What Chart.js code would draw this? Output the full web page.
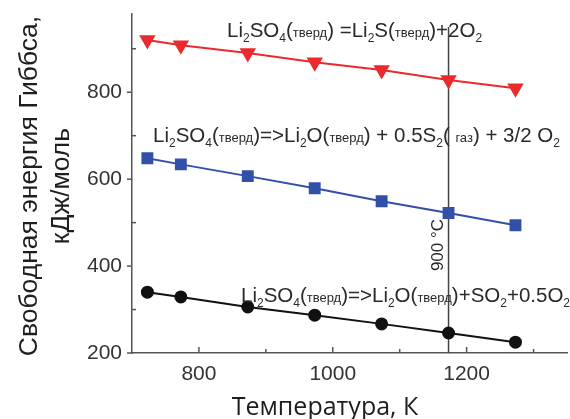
<!DOCTYPE html>
<html>
<head>
<meta charset="utf-8">
<script src="https://cdn.jsdelivr.net/npm/chart.js@4.4.0/dist/chart.umd.min.js"></script>
<style>
html,body{margin:0;padding:0;background:#fff;}
#wrap{width:570px;height:419px;position:relative;}
</style>
</head>
<body>
<div id="wrap"><canvas id="c" width="570" height="419"></canvas></div>
<script>
// ---- data ----
const temps = [723, 773, 873, 973, 1073, 1173, 1273];          // K
const gLi2S = [920, 908, 890, 869, 851, 828, 809];               // Li2SO4 = Li2S + 2O2
const gLi2O_S2 = [648, 634, 607, 579, 549, 522, 494];            // Li2SO4 => Li2O + 0.5S2 + 3/2 O2
const gLi2O_SO2 = [340, 329, 306, 287, 267, 246, 225];           // Li2SO4 => Li2O + SO2 + 0.5O2
const xTickLabels = [800, 1000, 1200];
const yTickLabels = [200, 400, 600, 800];
const xMinorTicks = [900, 1100, 1300];
const yMinorTicks = [300, 500, 700, 900];
const marker900C = 1173;
const markerSpan = [200, 950];
const markerLabel = '900 °C';
const yTitle = ['Свободная энергия Гиббса,', 'кДж/моль'];
const xTitle = 'Температура, К';
// equation labels: [type, text]; n = normal, s = subscript, p = phase (small)
const eqTop = [['n','Li'],['s','2'],['n','SO'],['s','4'],['n','('],['p','тверд'],['n',') =Li'],['s','2'],['n','S('],['p','тверд'],['n',')+2O'],['s','2']];
const eqMid = [['n','Li'],['s','2'],['n','SO'],['s','4'],['n','('],['p','тверд'],['n',')=>Li'],['s','2'],['n','O('],['p','тверд'],['n',') + 0.5S'],['s','2'],['n','( '],['p','газ'],['n',') + 3/2 O'],['s','2']];
const eqBot = [['n','Li'],['s','2'],['n','SO'],['s','4'],['n','('],['p','тверд'],['n',')=>Li'],['s','2'],['n','O('],['p','тверд'],['n',')+SO'],['s','2'],['n','+0.5O'],['s','2']];

const pts = (ys) => temps.map((t, i) => ({x: t, y: ys[i]}));

function drawRich(ctx, x, y, segs) {
  ctx.save();
  ctx.textBaseline = 'alphabetic';
  ctx.textAlign = 'left';
  ctx.fillStyle = '#2a2a2a';
  for (const [t, s] of segs) {
    let dy = 0;
    if (t === 'n') ctx.font = '20.5px "Liberation Sans", Arial, sans-serif';
    else if (t === 's') { ctx.font = '12px "Liberation Sans", Arial, sans-serif'; dy = 5; }
    else ctx.font = '13px "Liberation Sans", Arial, sans-serif';
    ctx.fillText(s, x, y + dy);
    x += ctx.measureText(s).width;
  }
  ctx.restore();
}

const noPad = (s) => { s.paddingTop = 0; s.paddingBottom = 0; s.paddingLeft = 0; s.paddingRight = 0; };

const decor = {
  id: 'decor',
  afterDraw(chart) {
    const ctx = chart.ctx;
    const xs = chart.scales.x, ys = chart.scales.y;
    const axisX = chart.chartArea.left, axisY = chart.chartArea.bottom;
    ctx.save();
    ctx.strokeStyle = '#555';
    ctx.lineWidth = 1.5;
    for (const v of yTickLabels) {
      const py = ys.getPixelForValue(v);
      ctx.beginPath(); ctx.moveTo(axisX - 5, py); ctx.lineTo(axisX, py); ctx.stroke();
    }
    for (const v of yMinorTicks) {
      const py = ys.getPixelForValue(v);
      ctx.beginPath(); ctx.moveTo(axisX, py); ctx.lineTo(axisX + 4, py); ctx.stroke();
    }
    for (const v of xTickLabels) {
      const px = xs.getPixelForValue(v);
      ctx.beginPath(); ctx.moveTo(px, axisY); ctx.lineTo(px, axisY - 6); ctx.stroke();
    }
    for (const v of xMinorTicks) {
      const px = xs.getPixelForValue(v);
      ctx.beginPath(); ctx.moveTo(px, axisY); ctx.lineTo(px, axisY - 4); ctx.stroke();
    }
    ctx.restore();

    drawRich(ctx, 227, 37, eqTop);
    drawRich(ctx, 153, 142, eqMid);
    drawRich(ctx, 241, 302, eqBot);

    ctx.save();
    ctx.translate(xs.getPixelForValue(marker900C) - 10, 245);
    ctx.rotate(-Math.PI / 2);
    ctx.font = '17px "Liberation Sans", Arial, sans-serif';
    ctx.fillStyle = '#2a2a2a';
    ctx.textAlign = 'center';
    ctx.textBaseline = 'middle';
    ctx.fillText(markerLabel, 0, 0);
    ctx.restore();

    ctx.save();
    ctx.fillStyle = '#1e1e1e';
    ctx.font = '26.5px "Liberation Sans", Arial, sans-serif';
    ctx.textAlign = 'center';
    ctx.textBaseline = 'middle';
    ctx.translate(30, 186);
    ctx.rotate(-Math.PI / 2);
    ctx.fillText(yTitle[0], 0, 0);
    ctx.fillText(yTitle[1], 0, 32);
    ctx.restore();

    ctx.save();
    ctx.fillStyle = '#1e1e1e';
    ctx.font = '25px "Open Sans", sans-serif';
    ctx.textAlign = 'center';
    ctx.textBaseline = 'alphabetic';
    ctx.fillText(xTitle, 325, 415);
    ctx.restore();
  }
};

new Chart(document.getElementById('c'), {
  type: 'line',
  data: {
    datasets: [
      {
        data: [{x: marker900C, y: markerSpan[0]}, {x: marker900C, y: markerSpan[1]}],
        borderColor: '#444', borderWidth: 1.5, pointRadius: 0, order: 5
      },
      {
        data: pts(gLi2S),
        borderColor: '#ea2a2e', backgroundColor: '#ea2a2e', borderWidth: 2,
        pointStyle: 'triangle', pointRotation: 180, pointRadius: 7.5, order: 1
      },
      {
        data: pts(gLi2O_S2),
        borderColor: '#3350a8', backgroundColor: '#3350a8', borderWidth: 2,
        pointStyle: 'rect', pointRadius: 7, order: 1
      },
      {
        data: pts(gLi2O_SO2),
        borderColor: '#111', backgroundColor: '#111', borderWidth: 2,
        pointStyle: 'circle', pointRadius: 5.5, order: 1
      }
    ]
  },
  options: {
    responsive: false,
    animation: false,
    layout: {autoPadding: false, padding: {top: 14, right: 3, left: 0, bottom: 0}},
    plugins: {legend: {display: false}, tooltip: {enabled: false}},
    scales: {
      x: {
        type: 'linear', min: 700, max: 1350,
        afterFit: (s) => { s.height = 66; noPad(s); },
        afterBuildTicks: (s) => { s.ticks = xTickLabels.map(v => ({value: v})); },
        grid: {display: false, drawTicks: false},
        border: {display: true, color: '#555', width: 1.5},
        ticks: {
          padding: 9, color: '#333', maxRotation: 0, autoSkip: false,
          font: {family: '"Liberation Sans", Arial, sans-serif', size: 21},
          callback: (v) => String(v)
        }
      },
      y: {
        type: 'linear', min: 200, max: 980,
        afterFit: (s) => { s.width = 132; noPad(s); },
        afterBuildTicks: (s) => { s.ticks = yTickLabels.map(v => ({value: v})); },
        grid: {display: false, drawTicks: false},
        border: {display: true, color: '#555', width: 1.5},
        ticks: {
          padding: 10, color: '#333', autoSkip: false,
          font: {family: '"Liberation Sans", Arial, sans-serif', size: 21},
          callback: (v) => String(v)
        }
      }
    }
  },
  plugins: [decor]
});
</script>
</body>
</html>
